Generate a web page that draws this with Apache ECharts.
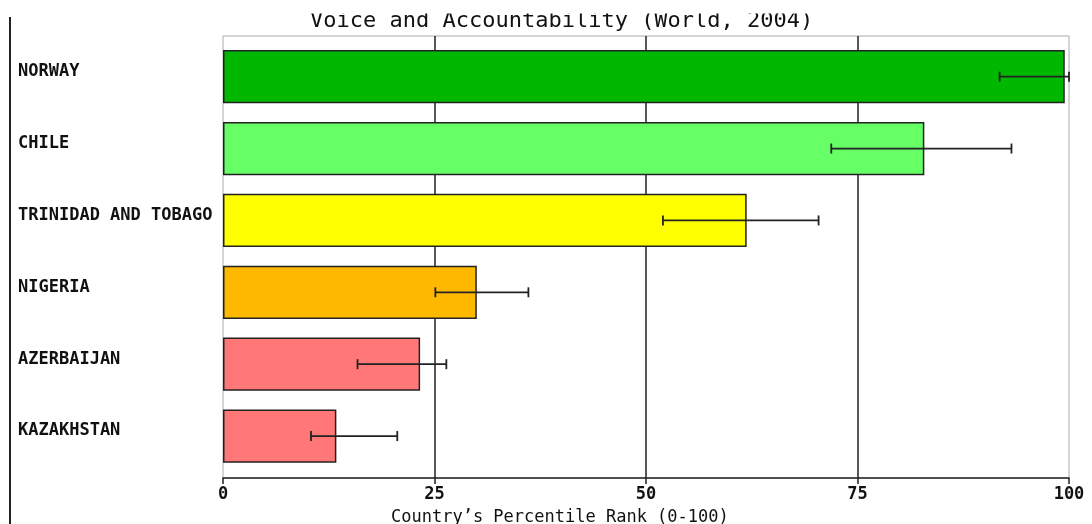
<!DOCTYPE html>
<html>
<head>
<meta charset="utf-8">
<script src="https://cdn.jsdelivr.net/npm/echarts@6/dist/echarts.min.js"></script>
<style>html,body{margin:0;padding:0;background:#fff}#c{width:1092px;height:524px}</style>
</head>
<body>
<div id="c"></div>
<script>
var titleText = 'Voice and Accountability (World, 2004)';
var axisTitle = 'Country\u2019s Percentile Rank (0-100)';
var countries = ['NORWAY', 'CHILE', 'TRINIDAD AND TOBAGO', 'NIGERIA', 'AZERBAIJAN', 'KAZAKHSTAN'];
var ranks = [99.5, 82.9, 61.9, 30.0, 23.3, 13.4];
var errLow = [91.8, 71.9, 52.0, 25.1, 15.9, 10.4];
var errHigh = [100, 93.2, 70.4, 36.1, 26.4, 20.6];
var barColors = ['#00b800', '#66ff66', '#ffff00', '#ffb800', '#ff7777', '#ff7777'];
var xTicks = [0, 25, 50, 75, 100];

var mono = 'DejaVu Sans Mono';
var chart = echarts.init(document.getElementById('c'), null, {renderer: 'canvas'});

var barData = ranks.map(function (v, i) {
  return {value: v, itemStyle: {color: barColors[i]}};
});
var errData = countries.map(function (c, i) { return [errLow[i], errHigh[i], i]; });

chart.setOption({
  animation: false,
  backgroundColor: '#fff',
  title: [
    {text: titleText, left: 305, top: 5,
     textStyle: {fontFamily: mono, fontSize: 22, fontWeight: 'normal', color: '#111'}},
    {text: axisTitle, left: 386, top: 504,
     textStyle: {fontFamily: mono, fontSize: 17, fontWeight: 'normal', color: '#111'}}
  ],
  grid: [
    {left: 223, right: 23, top: 36, bottom: 46, show: true, borderColor: '#aaaaaa', borderWidth: 1, backgroundColor: 'transparent'},
    {left: 223, right: 23, top: 40.75, bottom: 52}
  ],
  xAxis: [
    {type: 'value', gridIndex: 0, min: 0, max: 100, interval: 25,
     axisLine: {show: true, lineStyle: {color: '#222', width: 1.5}},
     axisTick: {show: true, inside: false, length: 6, lineStyle: {color: '#222', width: 1.5}},
     axisLabel: {margin: 8, fontFamily: mono, fontSize: 17, fontWeight: 'bold', color: '#111',
       formatter: function (v) { return xTicks.indexOf(v) >= 0 ? String(v) : ''; }},
     splitLine: {show: true, showMinLine: false, showMaxLine: false, lineStyle: {color: '#222', width: 1.5}}},
    {type: 'value', gridIndex: 1, min: 0, max: 100, show: false}
  ],
  yAxis: [
    {type: 'value', gridIndex: 0, show: false},
    {type: 'category', gridIndex: 1, data: countries, inverse: true,
     axisLine: {show: false}, axisTick: {show: false}, splitLine: {show: false},
     axisLabel: {align: 'left', margin: 205, fontFamily: mono, fontSize: 17, fontWeight: 'bold', color: '#111',
       verticalAlign: 'bottom', lineHeight: 10}}
  ],
  series: [
    {type: 'bar', xAxisIndex: 1, yAxisIndex: 1, data: barData, barCategoryGap: '25.8%',
     itemStyle: {borderColor: '#222', borderWidth: 1.5}, z: 2},
    {type: 'custom', xAxisIndex: 1, yAxisIndex: 1, data: errData, encode: {x: [0, 1], y: 2}, z: 3,
     renderItem: function (params, api) {
       var i = api.value(2);
       var a = api.coord([api.value(0), i]);
       var b = api.coord([api.value(1), i]);
       var h = 5;
       var st = {stroke: '#222', lineWidth: 1.8};
       return {type: 'group', children: [
         {type: 'line', shape: {x1: a[0], y1: a[1], x2: b[0], y2: b[1]}, style: st},
         {type: 'line', shape: {x1: a[0], y1: a[1] - h, x2: a[0], y2: a[1] + h}, style: st},
         {type: 'line', shape: {x1: b[0], y1: b[1] - h, x2: b[0], y2: b[1] + h}, style: st}
       ]};
     }}
  ],
  graphic: [
    {type: 'rect', shape: {x: 0, y: 0, width: 1092, height: 13.5}, style: {fill: '#fff'}, z: 100},
    {type: 'line', shape: {x1: 10, y1: 17, x2: 10, y2: 524}, style: {stroke: '#222', lineWidth: 2}, z: 100}
  ]
});
</script>
</body>
</html>
